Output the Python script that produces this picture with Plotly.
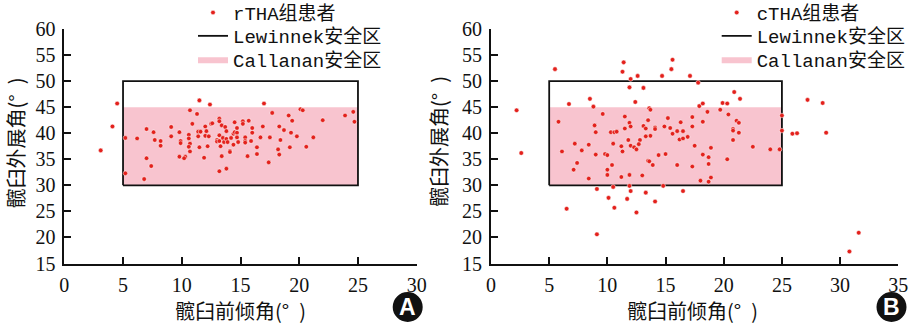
import plotly.graph_objects as go

# rTHA group: acetabular anteversion (x) and inclination (y), degrees
rtha_anteversion = [
    4.5, 4.1, 3.1, 5.2, 5.2, 6.2, 7.0, 7.6, 7.0, 7.4,
    6.8, 7.7, 8.2, 8.2, 9.1, 9.1, 9.8, 9.9, 9.9, 9.8,
    10.3, 10.2, 10.7, 11.3, 10.9, 10.6, 10.6, 10.7, 10.6, 10.7,
    11.4, 11.6, 11.4, 11.5, 11.9, 11.5, 12.0, 12.1, 12.0, 12.2,
    12.3, 12.4, 12.5, 12.6, 13.2, 13.2, 13.4, 13.2, 13.0, 13.0,
    13.2, 13.3, 13.4, 13.2, 13.5, 13.6, 13.7, 13.8, 13.8, 13.9,
    13.8, 14.1, 14.1, 14.2, 14.4, 14.4, 14.5, 14.5, 14.7, 14.7,
    14.7, 14.8, 15.2, 15.2, 15.4, 15.4, 15.4, 15.6, 15.7, 15.9,
    16.0, 16.0, 16.4, 16.4, 16.7, 16.9, 17.0, 17.4, 17.5, 17.7,
    18.2, 18.3, 18.3, 18.4, 18.7, 19.1, 19.2, 19.3, 19.4, 19.8,
    20.1, 20.3, 20.6, 21.2, 22.0, 23.9, 24.6, 24.7,
]
rtha_inclination = [
    45.7, 41.3, 36.7, 39.1, 32.3, 39.0, 40.8, 40.2, 35.2, 33.7,
    31.2, 38.7, 38.5, 37.6, 41.2, 39.4, 40.2, 38.5, 38.1, 35.5,
    35.5, 35.2, 44.4, 43.7, 41.8, 39.7, 39.0, 38.0, 37.4, 36.5,
    40.3, 40.3, 39.4, 37.3, 35.3, 46.3, 41.3, 40.4, 39.5, 37.5,
    39.4, 45.5, 41.8, 41.9, 42.8, 42.3, 41.5, 39.6, 38.7, 38.4,
    38.5, 37.5, 35.6, 32.7, 39.1, 38.3, 41.2, 40.4, 38.9, 38.3,
    33.2, 36.6, 36.4, 39.1, 39.9, 37.8, 42.1, 40.2, 41.0, 40.1,
    39.2, 38.3, 42.3, 41.8, 39.2, 38.5, 38.2, 35.6, 42.4, 38.5,
    40.1, 41.0, 37.3, 36.0, 39.2, 41.3, 45.7, 34.4, 39.2, 43.9,
    36.9, 35.9, 41.3, 38.7, 40.6, 43.4, 37.3, 40.1, 42.4, 39.4,
    44.6, 44.4, 37.4, 39.2, 42.5, 43.4, 44.1, 42.2,
]

# cTHA group: acetabular anteversion (x) and inclination (y), degrees
ctha_anteversion = [
    5.5, 11.4, 15.6, 11.3, 15.5, 12.6, 14.7, 17.1, 12.0, 17.8,
    11.9, 13.1, 20.9, 21.4, 6.7, 8.5, 8.8, 12.4, 17.9, 18.2,
    19.9, 20.3, 27.2, 28.5, 2.2, 13.6, 13.7, 19.7, 18.6, 9.6,
    11.5, 20.4, 13.5, 15.2, 17.3, 5.8, 8.9, 11.9, 12.0, 11.5,
    13.1, 13.3, 14.1, 14.1, 14.9, 15.4, 16.3, 18.2, 21.1, 21.3,
    25.0, 20.8, 20.8, 21.3, 25.0, 10.3, 10.6, 10.8, 9.0, 16.0,
    16.5, 15.6, 17.3, 13.7, 13.3, 12.8, 11.8, 16.2, 16.5, 16.9,
    20.8, 25.9, 26.3, 28.8, 2.6, 6.1, 7.2, 7.8, 8.4, 10.5,
    11.2, 12.0, 12.3, 12.5, 12.7, 14.4, 15.0, 17.5, 18.9, 22.5,
    24.0, 24.8, 9.0, 9.8, 10.0, 18.2, 18.7, 20.3, 7.4, 7.1,
    10.4, 10.0, 13.5, 13.6, 13.9, 16.0, 17.3, 18.7, 10.0, 11.2,
    11.9, 13.0, 18.9, 8.4, 18.0, 18.7, 9.1, 10.5, 11.9, 14.8,
    10.1, 11.7, 12.0, 13.3, 16.5, 6.5, 9.1, 10.6, 12.5, 14.1,
    30.8, 31.6, 11.3,
]
ctha_inclination = [
    52.3, 53.6, 54.1, 51.8, 52.3, 51.0, 51.0, 51.0, 50.4, 49.7,
    48.8, 48.7, 47.9, 46.6, 45.6, 46.6, 45.1, 46.0, 45.2, 45.7,
    45.8, 45.7, 46.4, 45.8, 44.4, 44.8, 44.5, 44.5, 44.1, 43.7,
    43.2, 43.6, 42.5, 42.9, 43.1, 42.2, 41.5, 42.0, 41.3, 40.9,
    41.4, 40.9, 41.1, 40.8, 41.3, 41.0, 42.1, 42.2, 42.4, 42.0,
    43.4, 40.8, 40.5, 40.1, 40.5, 40.2, 40.2, 40.3, 40.2, 40.4,
    40.4, 39.9, 41.3, 39.5, 39.4, 38.7, 38.7, 38.8, 39.0, 39.3,
    38.7, 39.9, 40.0, 40.1, 36.2, 36.5, 38.0, 36.7, 37.8, 38.0,
    37.5, 37.6, 37.3, 36.9, 37.9, 35.8, 36.0, 37.6, 37.2, 37.4,
    36.9, 36.9, 35.9, 36.0, 35.8, 35.9, 35.4, 35.0, 34.3, 33.0,
    33.9, 33.0, 34.7, 34.6, 33.9, 33.9, 33.6, 34.1, 32.0, 31.6,
    32.0, 31.9, 31.5, 31.3, 30.9, 30.7, 29.3, 29.7, 29.9, 29.9,
    27.6, 27.4, 28.9, 28.6, 28.9, 25.5, 20.6, 25.7, 24.8, 26.9,
    17.3, 20.9, 36.5,
]

# Safe zones (anteversion range, inclination range), degrees
lewinnek_anteversion = [5, 25]
lewinnek_inclination = [30, 50]
callanan_anteversion = [5, 25]
callanan_inclination = [30, 45]

# Axis ranges and tick values
x_range_rtha = [0, 30]
x_range_ctha = [0, 35]
y_range = [15, 60]
x_ticks_rtha = [0, 5, 10, 15, 20, 25, 30]
x_ticks_ctha = [0, 5, 10, 15, 20, 25, 30, 35]
y_ticks = [15, 20, 25, 30, 35, 40, 45, 50, 55, 60]

group_names = ["rTHA组患者", "cTHA组患者"]
lewinnek_name = "Lewinnek安全区"
callanan_name = "Callanan安全区"
x_title = "髋臼前倾角(°\u2002)"
y_title = "髋臼外展角(°\u2002)"
panel_labels = ["A", "B"]

W, H = 910, 325


def px_x(p):
    return p / W


def px_y(p):
    return 1 - p / H


def box(xr, yr):
    return ([xr[0], xr[1], xr[1], xr[0], xr[0]],
            [yr[0], yr[0], yr[1], yr[1], yr[0]])


RED = "#E3211C"
PINK = "#F8C4CF"
CJK = "Noto Sans CJK SC"

fig = go.Figure()

panels = [
    dict(xa="x", ya="y", xs=rtha_anteversion, ys=rtha_inclination,
         name=group_names[0], legends=["legend", "legend2", "legend3"]),
    dict(xa="x2", ya="y2", xs=ctha_anteversion, ys=ctha_inclination,
         name=group_names[1], legends=["legend4", "legend5", "legend6"]),
]

for p in panels:
    cx, cy = box(callanan_anteversion, callanan_inclination)
    fig.add_trace(go.Scatter(
        x=cx, y=cy, mode="lines", fill="toself", fillcolor=PINK,
        line=dict(width=0, color=PINK), name=callanan_name,
        xaxis=p["xa"], yaxis=p["ya"], legend=p["legends"][2],
        hoverinfo="skip"))
    lx, ly = box(lewinnek_anteversion, lewinnek_inclination)
    fig.add_trace(go.Scatter(
        x=lx, y=ly, mode="lines", line=dict(width=1.8, color="#111111"),
        name=lewinnek_name, xaxis=p["xa"], yaxis=p["ya"],
        legend=p["legends"][1], hoverinfo="skip"))
    fig.add_trace(go.Scatter(
        x=p["xs"], y=p["ys"], mode="markers", name=p["name"],
        marker=dict(size=4.6, color=RED, line=dict(width=0.5, color="white")),
        xaxis=p["xa"], yaxis=p["ya"], legend=p["legends"][0]))

axis_common = dict(
    showline=True, linecolor="#111111", linewidth=1.8,
    ticks="inside", ticklen=7, tickwidth=1.6, tickcolor="#111111",
    showgrid=False, zeroline=False, mirror=False,
    tickfont=dict(family="Liberation Serif", size=20, color="#111111"),
)
x_axis_common = dict(axis_common, ticklabelstandoff=3)
y_axis_common = dict(axis_common, ticklabelstandoff=3)
y_domain = [px_y(263.5), px_y(29)]

legend_common = dict(
    bgcolor="rgba(0,0,0,0)", borderwidth=0,
    font=dict(family="Liberation Mono, " + CJK, size=19, color="#111111"),
    xanchor="left", yanchor="middle",
)
row_y = [12.7, 36.0, 59.5]
legend_left = 193
legend_right = 716.7

layout = dict(
    width=W, height=H,
    margin=dict(l=0, r=0, t=0, b=0, autoexpand=False),
    paper_bgcolor="white", plot_bgcolor="white",
    showlegend=True,
    xaxis=dict(x_axis_common, domain=[px_x(64.3), px_x(416.7)],
               range=x_range_rtha, tickvals=x_ticks_rtha, anchor="y"),
    yaxis=dict(y_axis_common, domain=y_domain, range=y_range,
               tickvals=y_ticks, anchor="x"),
    xaxis2=dict(x_axis_common, domain=[px_x(491), px_x(898.3)],
                range=x_range_ctha, tickvals=x_ticks_ctha, anchor="y2"),
    yaxis2=dict(y_axis_common, domain=y_domain, range=y_range,
                tickvals=y_ticks, anchor="x2"),
)
for i, key in enumerate(["legend", "legend2", "legend3"]):
    layout[key] = dict(legend_common, x=px_x(legend_left), y=px_y(row_y[i]))
for i, key in enumerate(["legend4", "legend5", "legend6"]):
    layout[key] = dict(legend_common, x=px_x(legend_right), y=px_y(row_y[i]))
fig.update_layout(**layout)

title_font = dict(family=CJK, size=20, color="#111111")
annotations = [
    dict(x=px_x(240.5), y=px_y(310.5), text=x_title, textangle=0),
    dict(x=px_x(692), y=px_y(310.5), text=x_title, textangle=0),
    dict(x=px_x(15), y=px_y(143.5), text=y_title, textangle=-90),
    dict(x=px_x(438.5), y=px_y(141.5), text=y_title, textangle=-90),
]
for a in annotations:
    fig.add_annotation(xref="paper", yref="paper", showarrow=False,
                       xanchor="center", yanchor="middle", font=title_font, **a)

# Circled panel letters
for label, cxp in zip(panel_labels, [407.7, 891.5]):
    cyp, r = 307.0, 15
    fig.add_shape(type="circle", xref="paper", yref="paper",
                  x0=px_x(cxp - r), x1=px_x(cxp + r),
                  y0=px_y(cyp + r), y1=px_y(cyp - r),
                  fillcolor="#111111", line=dict(width=0))
    fig.add_annotation(xref="paper", yref="paper", x=px_x(cxp), y=px_y(cyp),
                       text="<b>%s</b>" % label, showarrow=False,
                       xanchor="center", yanchor="middle", borderpad=0,
                       font=dict(family="Liberation Sans", size=23, color="white"))

fig.write_html("out.html")
